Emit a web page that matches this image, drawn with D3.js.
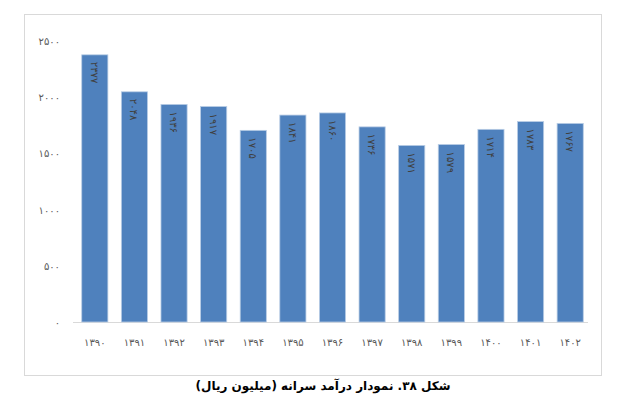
<html>
<head>
<script src="https://cdnjs.cloudflare.com/ajax/libs/d3/7.8.5/d3.min.js"></script>
<style>body{margin:0;background:#fff;font-family:"DejaVu Sans","Noto Sans",sans-serif;}</style>
</head>
<body>
<script>
var years = [1390,1391,1392,1393,1394,1395,1396,1397,1398,1399,1400,1401,1402];
var values = [2377,2048,1936,1917,1705,1841,1860,1736,1571,1579,1714,1783,1767];
var yTicks = [0,500,1000,1500,2000,2500];
var caption = "شکل ۳۸. نمودار درآمد سرانه (میلیون ریال)";

function fa(n) { return String(n).replace(/\d/g, function(d){ return "۰۱۲۳۴۵۶۷۸۹"[d]; }); }

var svg = d3.select("body").append("svg").attr("width", 631).attr("height", 401);
svg.append("rect").attr("x", 24.5).attr("y", 14.5).attr("width", 577).attr("height", 361)
  .attr("fill", "none").attr("stroke", "#d9d9d9");

var x = d3.scaleBand().domain(years).range([75, 590]).paddingInner(0.34).paddingOuter(0.17);
var y = d3.scaleLinear().domain([0, 2500]).range([322, 41]);

svg.append("line").attr("x1", 73).attr("x2", 588).attr("y1", 322.5).attr("y2", 322.5).attr("stroke", "#d9d9d9");

svg.selectAll(".yt").data(yTicks).enter().append("text")
  .attr("x", 60).attr("y", function(d){ return y(d) + 4; })
  .attr("text-anchor", "end").attr("font-size", 10).attr("fill", "#595959")
  .text(function(d){ return fa(d); });

svg.selectAll(".bar").data(values).enter().append("rect")
  .attr("x", function(d, i){ return x(years[i]); })
  .attr("y", function(d){ return y(d); })
  .attr("width", x.bandwidth()).attr("height", function(d){ return 322 - y(d); })
  .attr("fill", "#4f81bd").attr("stroke", "#b9cde5").attr("stroke-width", 0.8);

svg.selectAll(".lbl").data(values).enter().append("text")
  .attr("transform", function(d, i){
    return "translate(" + (x(years[i]) + x.bandwidth()/2 - 4) + "," + (y(d) + 7) + ") rotate(90)";
  })
  .attr("font-size", 10).attr("fill", "#404040")
  .text(function(d){ return fa(d); });

svg.selectAll(".xt").data(years).enter().append("text")
  .attr("x", function(d){ return x(d) + x.bandwidth()/2; }).attr("y", 346)
  .attr("text-anchor", "middle").attr("font-size", 10).attr("fill", "#595959")
  .text(function(d){ return fa(d); });

svg.append("text").attr("x", 323).attr("y", 390).attr("text-anchor", "middle")
  .attr("font-size", 12).attr("font-weight", "bold").attr("direction", "rtl")
  .text(caption);
</script>
</body>
</html>
